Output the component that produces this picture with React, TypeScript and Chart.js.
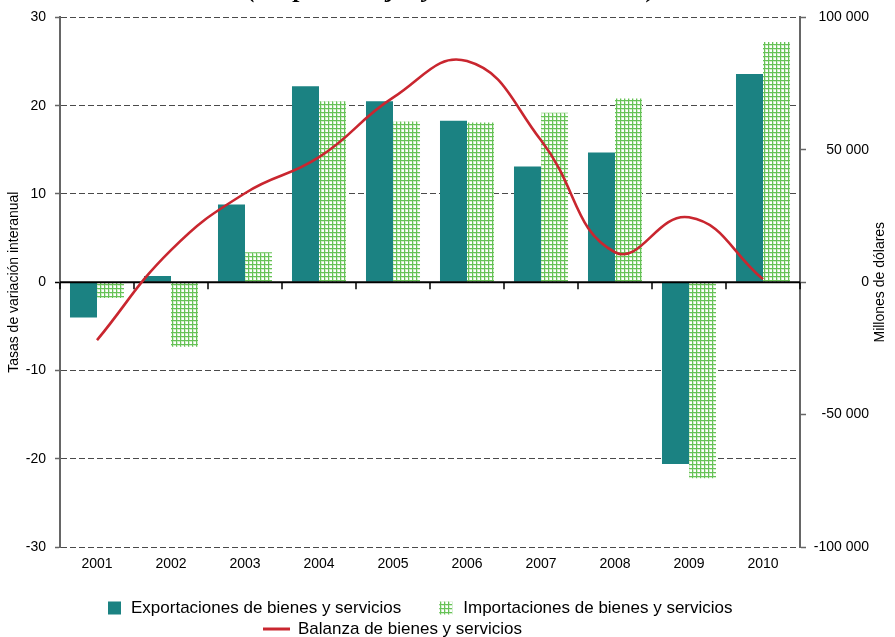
import React, { useEffect, useRef } from "react";
import { Chart, registerables } from "chart.js";

Chart.register(...registerables);

const FONT = "'Liberation Sans', Arial, sans-serif";
const SERIF = "'Liberation Serif', 'Times New Roman', serif";

const years = ["2001", "2002", "2003", "2004", "2005", "2006", "2007", "2008", "2009", "2010"];
const exportaciones = [-4.0, 0.7, 8.8, 22.2, 20.5, 18.3, 13.1, 14.7, -20.6, 23.6];
const importaciones = [-1.8, -7.3, 3.4, 20.5, 18.2, 18.1, 19.2, 20.8, -22.2, 27.2];
const balanza = [-21900, 12100, 33600, 47200, 69700, 83500, 53600, 11300, 24500, 1100];

const leftMin = -30;
const leftMax = 30;
const leftStep = 10;
const rightMin = -100000;
const rightMax = 100000;
const rightStep = 50000;

const titleText = "(En porcentajes y millones de dólares)";
const leftTitle = "Tasas de variación interanual";
const rightTitle = "Millones de dólares";
const legendLabels = [
  "Exportaciones de bienes y servicios",
  "Importaciones de bienes y servicios",
  "Balanza de bienes y servicios",
];

const EXPORT_COLOR = "#1b8282";
const LINE_COLOR = "#c9262f";
const GRID_COLOR = "#4a4a4a";
const AXIS_COLOR = "#666666";

function makePattern(): CanvasPattern | string {
  const c = document.createElement("canvas");
  c.width = 4;
  c.height = 4;
  const g = c.getContext("2d");
  if (!g) return "#8fd07f";
  g.fillStyle = "#ffffff";
  g.fillRect(0, 0, 4, 4);
  g.fillStyle = "#d2edca";
  g.fillRect(0, 1, 4, 1);
  g.fillRect(1, 0, 1, 4);
  g.fillStyle = "#66c257";
  g.fillRect(0, 0, 4, 1);
  g.fillRect(0, 0, 1, 4);
  return g.createPattern(c, "repeat") || "#8fd07f";
}

function fmtThousands(v: number): string {
  const s = Math.abs(v).toString().replace(/\B(?=(\d{3})+(?!\d))/g, " ");
  return (v < 0 ? "-" : "") + s;
}

export default function App() {
  const ref = useRef<HTMLCanvasElement | null>(null);

  useEffect(() => {
    const canvas = ref.current;
    if (!canvas) return;
    const pattern = makePattern();

    const decorPlugin = {
      id: "decor",
      beforeDatasetDraw(chart: any, args: any) {
        if (args.index !== 0) return;
        const { ctx, chartArea } = chart;
        const xs = chart.scales.x;
        const y0 = chart.scales.y.getPixelForValue(0);
        ctx.save();
        ctx.strokeStyle = "#000";
        ctx.lineWidth = 2;
        ctx.beginPath();
        ctx.moveTo(chartArea.left, y0);
        ctx.lineTo(chartArea.right, y0);
        ctx.stroke();
        const half = (xs.getPixelForValue(1) - xs.getPixelForValue(0)) / 2;
        ctx.lineWidth = 1.5;
        for (let i = 0; i <= years.length; i++) {
          const bx = Math.round(xs.getPixelForValue(0) - half + i * 2 * half);
          ctx.beginPath();
          ctx.moveTo(bx, y0);
          ctx.lineTo(bx, y0 + 7);
          ctx.stroke();
        }
        ctx.restore();
      },
      afterDraw(chart: any) {
        const { ctx, chartArea } = chart;
        ctx.save();
        // top title (cut off at the top edge)
        ctx.font = `bold italic 26px ${SERIF}`;
        ctx.fillStyle = "#000";
        ctx.textAlign = "center";
        ctx.textBaseline = "alphabetic";
        ctx.fillText(titleText, 452, -3);

        // right axis title, reading bottom to top
        ctx.font = `14px ${FONT}`;
        ctx.save();
        ctx.translate(880, (chartArea.top + chartArea.bottom) / 2);
        ctx.rotate(-Math.PI / 2);
        ctx.textAlign = "center";
        ctx.textBaseline = "middle";
        ctx.fillText(rightTitle, 0, 0);
        ctx.restore();

        // legend
        ctx.font = `17px ${FONT}`;
        ctx.textAlign = "left";
        ctx.textBaseline = "middle";
        const r1 = 608;
        let x = 108;
        ctx.fillStyle = EXPORT_COLOR;
        ctx.fillRect(x, r1 - 6.5, 13, 13);
        x += 23;
        ctx.fillStyle = "#000";
        ctx.fillText(legendLabels[0], x, r1);
        x += ctx.measureText(legendLabels[0]).width + 38;
        ctx.fillStyle = pattern;
        ctx.fillRect(x, r1 - 6.5, 13, 13);
        x += 24;
        ctx.fillStyle = "#000";
        ctx.fillText(legendLabels[1], x, r1);

        const r2 = 629;
        x = 263;
        ctx.strokeStyle = LINE_COLOR;
        ctx.lineWidth = 3;
        ctx.beginPath();
        ctx.moveTo(x, r2);
        ctx.lineTo(x + 27, r2);
        ctx.stroke();
        ctx.fillText(legendLabels[2], x + 35, r2);
        ctx.restore();
      },
    };

    const chart = new Chart(canvas, {
      type: "bar",
      data: {
        labels: years,
        datasets: [
          {
            type: "line",
            label: legendLabels[2],
            data: balanza,
            yAxisID: "y2",
            borderColor: LINE_COLOR,
            borderWidth: 2.6,
            pointRadius: 0,
            tension: 0.45,
            fill: false,
            order: 0,
          } as any,
          {
            type: "bar",
            label: legendLabels[0],
            data: exportaciones,
            yAxisID: "y",
            backgroundColor: EXPORT_COLOR,
            borderWidth: 0,
            categoryPercentage: 0.73,
            barPercentage: 1.0,
            order: 1,
          },
          {
            type: "bar",
            label: legendLabels[1],
            data: importaciones,
            yAxisID: "y",
            backgroundColor: pattern as any,
            borderWidth: 0,
            categoryPercentage: 0.73,
            barPercentage: 1.0,
            order: 1,
          },
        ],
      },
      options: {
        responsive: false,
        animation: false,
        devicePixelRatio: 1,
        layout: { padding: { top: 17, left: 0, right: 26, bottom: 0 } },
        plugins: {
          legend: { display: false },
          tooltip: { enabled: false },
          title: { display: false },
        },
        scales: {
          x: {
            type: "category",
            offset: true,
            grid: { display: false, drawTicks: false },
            border: { display: false },
            ticks: { color: "#000", font: { family: FONT, size: 14 }, padding: 9, maxRotation: 0, autoSkip: false },
            afterFit: (s: any) => {
              s.height = 90;
            },
          },
          y: {
            position: "left",
            min: leftMin,
            max: leftMax,
            ticks: { stepSize: leftStep, color: "#000", font: { family: FONT, size: 14 }, padding: 9 },
            grid: {
              color: (c: any) => (c.tick && c.tick.value === 0 ? "rgba(0,0,0,0)" : GRID_COLOR),
              lineWidth: 1,
              tickLength: 5,
              tickWidth: 1.5,
              tickColor: (c: any) => (c.tick && c.tick.value === 0 ? "#000" : AXIS_COLOR),
            },
            border: { display: true, color: AXIS_COLOR, width: 2, dash: [6, 3] },
            title: {
              display: true,
              text: leftTitle,
              color: "#000",
              font: { family: FONT, size: 14 },
              padding: { top: 6, bottom: 0 },
            },
            afterFit: (s: any) => {
              s.width = 60;
            },
          },
          y2: {
            position: "right",
            min: rightMin,
            max: rightMax,
            ticks: {
              stepSize: rightStep,
              color: "#000",
              font: { family: FONT, size: 14 },
              padding: 6,
              crossAlign: "far",
              callback: (v: any) => fmtThousands(Number(v)),
            },
            grid: { drawOnChartArea: false, tickLength: 6, tickWidth: 1.5, tickColor: AXIS_COLOR },
            border: { display: true, color: AXIS_COLOR, width: 2 },
            afterFit: (s: any) => {
              s.width = 69;
            },
          },
        },
      } as any,
      plugins: [decorPlugin],
    });

    return () => {
      chart.destroy();
    };
  }, []);

  return (
    <div style={{ position: "absolute", left: 0, top: 0, width: 895, height: 637 }}>
      <canvas ref={ref} width={895} height={637} style={{ display: "block" }} />
    </div>
  );
}
